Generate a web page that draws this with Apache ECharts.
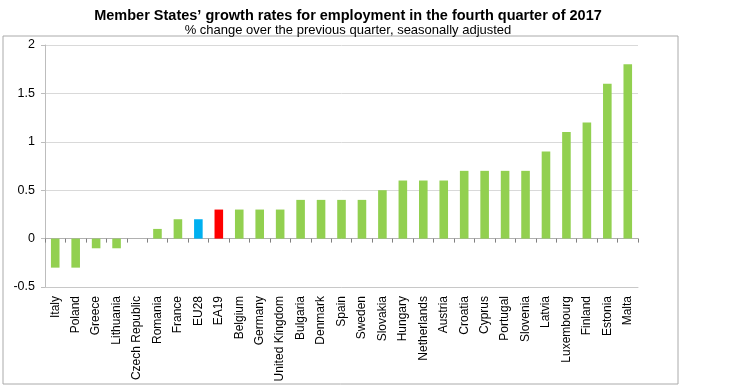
<!DOCTYPE html>
<html><head><meta charset="utf-8">
<script src="https://cdn.jsdelivr.net/npm/echarts@6/dist/echarts.min.js"></script>
<style>html,body{margin:0;padding:0;background:#fff}#c{width:750px;height:388px}</style>
</head><body><div id="c"></div>
<script>
const categories = ["Italy","Poland","Greece","Lithuania","Czech Republic","Romania","France","EU28","EA19","Belgium","Germany","United Kingdom","Bulgaria","Denmark","Spain","Sweden","Slovakia","Hungary","Netherlands","Austria","Croatia","Cyprus","Portugal","Slovenia","Latvia","Luxembourg","Finland","Estonia","Malta"];
const values = [-0.3,-0.3,-0.1,-0.1,0,0.1,0.2,0.2,0.3,0.3,0.3,0.3,0.4,0.4,0.4,0.4,0.5,0.6,0.6,0.6,0.7,0.7,0.7,0.7,0.9,1.1,1.2,1.6,1.8];
const yTicks = [-0.5,0,0.5,1,1.5,2];
const highlight = {"EU28":"#00B0F0","EA19":"#FF0000"};
const baseColor = "#92D050";

const chart = echarts.init(document.getElementById('c'), null, {renderer:'canvas'});
const font = "'Liberation Sans', Arial, sans-serif";
chart.setOption({
  animation:false,
  title:{
    text:"Member States\u2019 growth rates for employment in the fourth quarter of 2017",
    subtext:"% change over the previous quarter, seasonally adjusted",
    left:343, top:3, textAlign:'center', itemGap:1,
    textStyle:{fontFamily:font,fontSize:14.5,fontWeight:'bold',color:'#000'},
    subtextStyle:{fontFamily:font,fontSize:13,color:'#000'}
  },
  graphic:[{type:'rect',shape:{x:3,y:36,width:675,height:348},style:{fill:'none',stroke:'#aaa',lineWidth:1},silent:true,z:-1}],
  grid:{left:45,right:112,top:45,bottom:101},
  xAxis:[{
    type:'category',data:categories,position:'bottom',
    axisLine:{onZero:false,show:true,lineStyle:{color:'#c8c8c8'}},
    axisTick:{show:false},
    axisLabel:{rotate:90,interval:0,margin:9,fontFamily:font,fontSize:12,color:'#000'}
  },{
    type:'category',data:categories,position:'top',
    axisLine:{onZero:true,show:true,lineStyle:{color:'#b0b0b0'}},
    axisTick:{show:true,inside:true,interval:0,length:4,lineStyle:{color:'#808080'}},
    axisLabel:{show:false,interval:0}
  }],
  yAxis:{
    type:'value',min:-0.5,max:2,interval:0.5,
    axisLine:{show:true,lineStyle:{color:'#bdbdbd'}},
    axisTick:{show:true,length:4,lineStyle:{color:'#bdbdbd'}},
    splitLine:{lineStyle:{color:'#d9d9d9'}},
    axisLabel:{margin:10,fontFamily:font,fontSize:12.5,color:'#000',
      formatter:v=>yTicks.includes(v)?String(v):''}
  },
  series:[{
    type:'bar',xAxisIndex:0,barWidth:'42%',
    data:values.map((v,i)=>({value:v,itemStyle:{color:highlight[categories[i]]||baseColor}}))
  }]
});
</script></body></html>
